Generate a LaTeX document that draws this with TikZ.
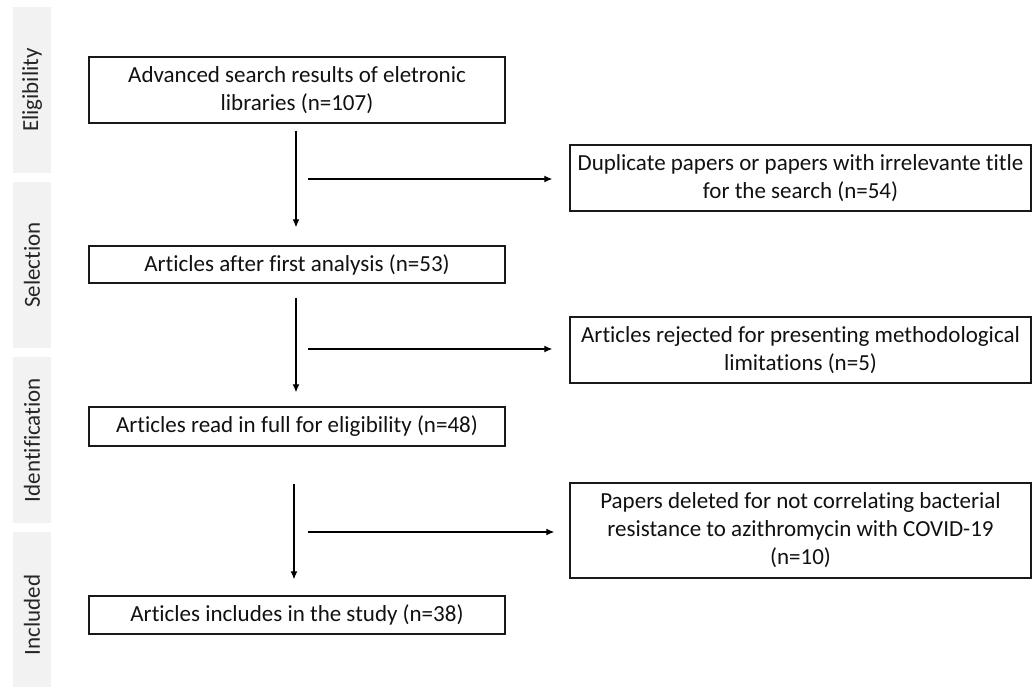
\documentclass[tikz,border=0pt]{standalone}
\usepackage{fontspec}
\setmainfont{Carlito}[Ligatures=NoCommon]
\usetikzlibrary{arrows.meta,calc}
\definecolor{bandgray}{HTML}{F2F2F2}
\definecolor{labelgray}{HTML}{262626}
\definecolor{txt}{HTML}{111111}
\begin{document}
\begin{tikzpicture}[x=1pt,y=-1pt,
  font=\fontsize{23}{28}\selectfont,
  band/.style={fill=bandgray, draw=none, rotate=90, minimum width=166pt, minimum height=38pt, inner sep=0pt, text=labelgray},
  mainbox/.style={draw=black!90, line width=1.4pt, minimum width=416pt, inner sep=0pt, align=center, text=txt},
  sidebox/.style={draw=black!90, line width=1.4pt, minimum width=461pt, inner sep=0pt, align=center, text=txt},
  arr/.style={line width=1.2pt, -{Latex[length=8pt,width=7pt]}}
]
\clip (0,0) rectangle (1033,687);
\fill[white] (0,0) rectangle (1033,687);

% side bands
\node[band] (e) at (32,90) {Eligibility};
\node[band] (s) at (32,265) {Selection};
\node[band] (i) at (32,440) {Identification};
\node[band] (n) at (32,615) {Included};

% main boxes
\node[mainbox, minimum height=66pt] (b1) at (297,90) {Advanced search results of eletronic\\libraries (n=107)};
\node[mainbox, minimum height=37pt] (b2) at (297,264.5) {Articles after first analysis (n=53)};
\node[mainbox, minimum height=39pt] (b3) at (297,426.5) {Articles read in full for eligibility (n=48)};
\node[mainbox, minimum height=38pt] (b4) at (297,615) {Articles includes in the study (n=38)};

% side boxes
\node[sidebox, minimum height=66pt] (r1) at (800.5,178) {Duplicate papers or papers with irrelevante title\\for the search (n=54)};
\node[sidebox, minimum height=66pt] (r2) at (800.5,350) {Articles rejected for presenting methodological\\limitations (n=5)};
\node[sidebox, minimum height=95pt] (r3) at (800.5,530.5) {Papers deleted for not correlating bacterial\\resistance to azithromycin with COVID-19\\(n=10)};

% vertical arrows
\draw[arr, shorten <=7pt, shorten >=18pt] ([xshift=-1pt]b1.south) -- ([xshift=-1pt]b2.north);
\draw[arr, shorten <=14pt, shorten >=14pt] ([xshift=-1pt]b2.south) -- ([xshift=-1pt]b3.north);
\draw[arr, shorten <=37pt, shorten >=16pt] ([xshift=-3pt]b3.south) -- ([xshift=-3pt]b4.north);

% horizontal arrows
\coordinate (h1) at (308,179);
\coordinate (h2) at (308,349);
\coordinate (h3) at (308,532);
\draw[arr, shorten >=17pt] (h1) -- (h1 -| r1.west);
\draw[arr, shorten >=17pt] (h2) -- (h2 -| r2.west);
\draw[arr, shorten >=15pt] (h3) -- (h3 -| r3.west);
\end{tikzpicture}
\end{document}
